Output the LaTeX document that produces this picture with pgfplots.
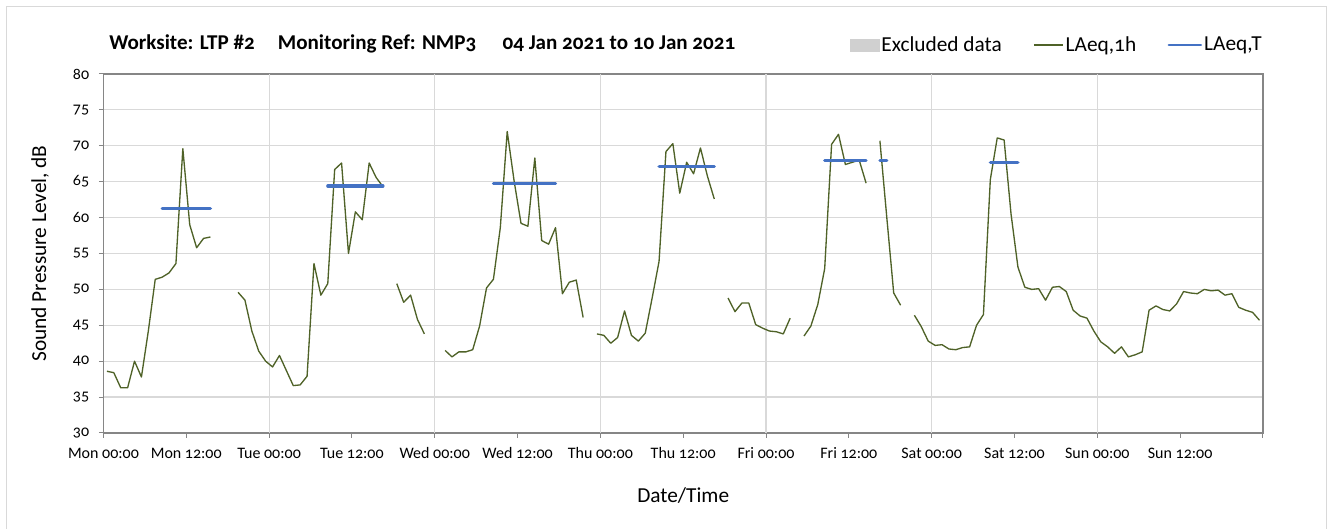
\documentclass[border=0pt]{standalone}
\usepackage{fontspec}
\setmainfont{Carlito}[Numbers=OldStyle]
\usepackage{pgfplots}
\pgfplotsset{compat=1.18}
\definecolor{lgreen}{HTML}{4F6228}
\definecolor{lblue}{HTML}{4472C4}
\definecolor{axgray}{HTML}{868686}
\definecolor{grdgray}{HTML}{D9D9D9}
\definecolor{bordgray}{HTML}{D9D9D9}
\definecolor{exgray}{HTML}{D0D0D0}
\begin{document}
\begin{tikzpicture}
\useasboundingbox (0,0) rectangle (999.75pt,396pt);
\draw[bordgray, line width=0.75pt] (4.5pt,-2pt) -- (4.5pt,390.75pt) -- (994.5pt,390.75pt) -- (994.5pt,-2pt);
\node[anchor=base west, font=\fontsize{15.8}{18}\selectfont\bfseries] at (78.5pt,358.5pt)
  {Worksite: LTP \#2\hspace{1.1em}Monitoring Ref: NMP3\hspace{1.25em}04 Jan 2021 to 10 Jan 2021};
\begin{axis}[
  at={(77.6pt,71.25pt)}, anchor=south west,
  scale only axis, width=869.6pt, height=269.25pt,
  xmin=0, xmax=168, ymin=30, ymax=80,
  axis line style={axgray, line width=0.9pt},
  xtick={0,12,...,168},
  xticklabels={Mon 00:00,Mon 12:00,Tue 00:00,Tue 12:00,Wed 00:00,Wed 12:00,Thu 00:00,Thu 12:00,Fri 00:00,Fri 12:00,Sat 00:00,Sat 12:00,Sun 00:00,Sun 12:00,{}},
  ytick={30,35,...,80},
  tick pos=left, tick align=outside,
  major tick length=3.5pt,
  tick style={axgray, line width=0.75pt},
  ymajorgrids, xmajorgrids=false,
  grid style={grdgray, line width=0.9pt},
  extra x ticks={24,48,72,96,120,144},
  extra x tick labels={},
  extra x tick style={xmajorgrids=true, major tick length=0pt},
  /pgf/number format/assume math mode=true,
  ticklabel style={font=\fontsize{12}{14}\selectfont},
  xticklabel style={anchor=base, yshift=-15.75pt},
  yticklabel style={anchor=east, inner sep=0pt, xshift=-7pt},
  xlabel={Date/Time},
  ylabel={Sound Pressure Level, dB},
  label style={font=\fontsize{16}{19}\selectfont},
  xlabel style={at={(axis description cs:0.5,-0.1755)}, anchor=center},
  ylabel style={at={(axis description cs:-0.0547,0.5)}, anchor=center, rotate=0},
  unbounded coords=jump,
  legend columns=3,
  legend style={at={(axis description cs:1,1)}, anchor=east, yshift=21.75pt, xshift=0.75pt,
    draw=none, fill=none, inner sep=0pt, font=\fontsize{16}{19}\selectfont,
    nodes={inner xsep=1.5pt, inner ysep=0pt},
    /tikz/every even column/.append style={column sep=22pt}},
  clip=false,
]
\addlegendimage{legend image code/.code={\fill[exgray] (0pt,-4.5pt) rectangle (22pt,4.5pt);}}
\addlegendentry{Excluded data}
\addplot[lgreen, line width=1pt, line join=round,
  legend image code/.code={\draw[lgreen, line width=0.9pt] (0pt,0pt) -- (22pt,0pt);}] coordinates {
(0.5,38.6)(1.5,38.4)(2.5,36.3)(3.5,36.3)(4.5,40.0)(5.5,37.8)(6.5,44.2)(7.5,51.4)
(8.5,51.7)(9.5,52.3)(10.5,53.6)(11.5,69.6)(12.5,59.0)(13.5,55.8)(14.5,57.1)(15.5,57.3)
(16,nan)
(19.5,49.6)(20.5,48.5)(21.5,44.2)(22.5,41.4)(23.5,40.0)(24.5,39.2)(25.5,40.8)(26.5,38.7)
(27.5,36.6)(28.5,36.7)(29.5,37.9)(30.5,53.6)(31.5,49.2)(32.5,50.8)(33.5,66.7)(34.5,67.6)
(35.5,55.0)(36.5,60.8)(37.5,59.7)(38.5,67.6)(39.5,65.6)(40.5,64.3)
(41,nan)
(42.5,50.8)(43.5,48.2)(44.5,49.2)(45.5,45.8)(46.5,43.8)
(47,nan)
(49.5,41.5)(50.5,40.6)(51.5,41.3)(52.5,41.3)(53.5,41.6)(54.5,44.9)(55.5,50.2)(56.5,51.4)
(57.5,58.6)(58.5,72.0)(59.5,65.1)(60.5,59.2)(61.5,58.8)(62.5,68.3)(63.5,56.8)(64.5,56.3)
(65.5,58.6)(66.5,49.4)(67.5,51.0)(68.5,51.3)(69.5,46.1)
(70,nan)
(71.5,43.8)(72.5,43.6)(73.5,42.5)(74.5,43.3)(75.5,47.0)(76.5,43.6)(77.5,42.8)(78.5,43.9)
(79.5,48.8)(80.5,53.9)(81.5,69.2)(82.5,70.3)(83.5,63.4)(84.5,67.7)(85.5,66.1)(86.5,69.7)
(87.5,65.8)(88.5,62.6)
(89,nan)
(90.5,48.8)(91.5,46.9)(92.5,48.1)(93.5,48.1)(94.5,45.1)(95.5,44.6)(96.5,44.2)(97.5,44.1)
(98.5,43.8)(99.5,46.0)
(100,nan)
(101.5,43.5)(102.5,44.9)(103.5,47.9)(104.5,52.9)(105.5,70.2)(106.5,71.6)(107.5,67.4)
(108.5,67.7)(109.5,68.0)(110.5,64.8)
(111,nan)
(112.5,70.7)(113.5,60.0)(114.5,49.5)(115.5,47.8)
(116,nan)
(117.5,46.4)(118.5,44.8)(119.5,42.8)(120.5,42.2)(121.5,42.3)(122.5,41.7)(123.5,41.6)
(124.5,41.9)(125.5,42.0)(126.5,45.0)(127.5,46.5)(128.5,65.3)(129.5,71.1)(130.5,70.8)
(131.5,60.5)(132.5,53.1)(133.5,50.3)(134.5,50.0)(135.5,50.1)(136.5,48.5)(137.5,50.3)
(138.5,50.4)(139.5,49.7)(140.5,47.1)(141.5,46.3)(142.5,46.0)(143.5,44.2)(144.5,42.7)
(145.5,42.0)(146.5,41.1)(147.5,42.0)(148.5,40.6)(149.5,40.9)(150.5,41.3)(151.5,47.1)
(152.5,47.7)(153.5,47.2)(154.5,47.0)(155.5,48.0)(156.5,49.7)(157.5,49.5)(158.5,49.4)
(159.5,50.0)(160.5,49.8)(161.5,49.9)(162.5,49.2)(163.5,49.4)(164.5,47.5)(165.5,47.1)
(166.5,46.8)(167.5,45.7)
};
\addlegendentry{LAeq,1h}
\addplot[lblue, line width=2.4pt, line cap=round,
  legend image code/.code={\draw[lblue, line width=2pt] (0pt,0pt) -- (24pt,0pt);}] coordinates {
(8.5,61.3)(15.5,61.3)(16,nan)
(32.5,64.4)(40.5,64.4)(41,nan)
(56.5,64.8)(65.5,64.8)(66,nan)
(80.5,67.1)(88.5,67.1)(89,nan)
(104.5,68.0)(110.5,68.0)(111,nan)
(112.5,68.0)(113.5,68.0)(114,nan)
(128.5,67.7)(132.5,67.7)
};
\addlegendentry{LAeq,T}
\end{axis}
\end{tikzpicture}
\end{document}
